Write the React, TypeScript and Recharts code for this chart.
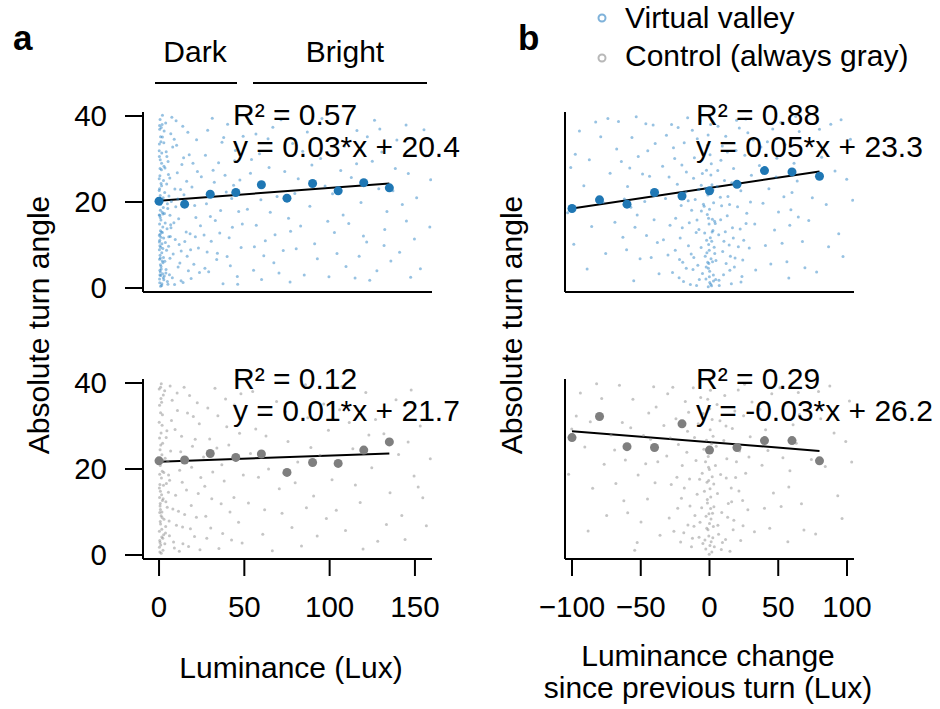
import { ScatterChart, Scatter, XAxis, YAxis, ReferenceLine } from 'recharts';

const FONT = '"Liberation Sans", Arial, Helvetica, sans-serif';
const BLUE = '#1f77b4';
const GRAY = '#7f7f7f';

const angleTicks = [0, 20, 40];
const lumTicks = [0, 50, 100, 150];
const changeTicks = [-100, -50, 0, 50, 100];

// binned means
const lumBins = [0, 15, 30, 45, 60, 75, 90, 105, 120, 135];
const valleyLumMeans = [20.2, 19.5, 21.8, 22.2, 24.0, 20.9, 24.3, 22.6, 24.5, 23.3];
const controlLumMeans = [21.9, 22.1, 23.6, 22.7, 23.5, 19.2, 21.5, 21.3, 24.4, 26.3];
const changeBins = [-100, -80, -60, -40, -20, 0, 20, 40, 60, 80];
const valleyChangeMeans = [18.5, 20.5, 19.5, 22.2, 21.4, 22.6, 24.1, 27.3, 27.0, 26.0];
const controlChangeMeans = [27.3, 32.2, 25.2, 25.0, 30.5, 24.4, 25.0, 26.6, 26.6, 21.9];

// fitted lines (end points)
const valleyLumFit = [[0, 20.3], [135, 24.3]];
const controlLumFit = [[0, 21.7], [135, 23.6]];
const valleyChangeFit = [[-100, 18.5], [80, 27.1]];
const controlChangeFit = [[-100, 28.8], [80, 24.2]];

const fitLabels = [
  ['R² = 0.57', 'y = 0.03*x + 20.4'],
  ['R² = 0.88', 'y = 0.05*x + 23.3'],
  ['R² = 0.12', 'y = 0.01*x + 21.7'],
  ['R² = 0.29', 'y = -0.03*x + 26.2'],
];

// single turns (sampled from the clouds)
const valleyLum = [
  [0.3,2.1],[0.8,5.4],[1.5,0.6],[0.2,8.9],[2.1,3.3],[0.6,12.5],[1.1,15.8],[0.4,1.2],[2.6,7.1],[0.9,19.4],
  [0.1,22.7],[1.7,10.3],[0.5,26.1],[1.3,4.4],[2.2,14.2],[0.7,29.8],[0.2,33.5],[1.9,17.6],[0.4,36.9],[1.2,24.3],
  [2.8,1.9],[0.6,39.2],[1.6,31.4],[0.3,6.7],[2.4,21.0],[0.8,13.3],[0.1,17.0],[1.4,27.5],[2.0,35.1],[0.5,9.8],
  [1.0,2.9],[2.7,11.6],[0.3,20.2],[1.8,38.0],[0.9,0.4],[1.5,23.8],[0.2,30.6],[2.3,5.9],[0.7,16.4],[1.1,34.0],
  [2.9,28.3],[0.4,11.1],[1.6,8.2],[0.1,25.4],[2.5,18.7],[0.8,3.7],[1.3,37.3],[0.6,7.6],[2.0,12.9],[0.3,14.9],
  [0.5,4.1],[1.9,6.3],[0.2,10.7],[3.1,2.8],[0.8,18.1],[1.4,13.0],[4.4,8.8],[0.3,23.1],[2.2,9.2],[5.2,0.9],
  [0.6,27.8],[1.7,1.0],[3.6,15.1],[0.1,31.9],[2.6,25.0],[0.9,35.2],[4.9,19.6],[1.2,5.0],[0.4,16.9],[3.3,22.2],
  [2.0,40.2],[5.7,11.9],[0.7,21.5],[1.5,29.0],[4.0,3.5],[0.2,12.2],[2.8,33.8],[6.4,6.9],[1.0,9.5],[3.0,36.5],
  [0.5,3.0],[2.3,17.2],[5.5,26.4],[0.8,7.0],[1.6,20.5],[4.6,30.6],[0.3,37.8],[2.5,2.4],[6.8,14.7],[1.1,11.8],
  [3.4,6.2],[5.1,18.5],[7.8,2.4],[4.2,31.7],[9.5,11.3],[6.3,25.6],[11.2,4.9],[3.9,38.4],[8.7,15.2],[12.6,22.9],
  [5.6,9.7],[14.1,1.3],[10.3,33.2],[4.7,13.8],[16.5,7.4],[7.2,20.1],[13.4,28.7],[18.2,12.6],[6.9,35.9],[3.2,17.3],
  [9.1,0.8],[15.3,19.8],[20.4,5.5],[11.8,10.1],[4.5,24.2],[17.7,31.0],[8.3,7.9],[21.6,16.4],[13.9,37.6],[6.1,3.1],
  [19.3,23.5],[10.7,26.8],[23.1,9.3],[5.3,29.4],[15.9,13.0],[7.5,39.7],[12.2,5.8],[22.5,27.1],[9.8,18.9],[3.7,10.6],
  [18.8,2.2],[14.6,21.7],[24.3,14.5],[8.0,32.8],[11.5,16.1],[16.9,36.2],[6.6,12.0],[20.9,19.2],[4.1,4.3],[13.0,8.6],
  [22.0,34.5],[9.3,23.0],[17.2,4.0],[5.8,21.4],[24.8,25.9],[10.0,38.9],[15.1,10.8],[19.9,29.0],[7.0,14.0],[12.9,1.7],
  [21.3,11.9],[3.5,27.9],[16.2,24.8],[8.9,34.6],[23.7,3.6],[11.0,20.7],[14.4,30.3],[6.4,16.9],[18.5,8.9],[4.9,1.5],
  [26.4,12.3],[29.1,3.8],[31.7,27.4],[27.8,19.6],[34.2,8.1],[36.9,33.9],[28.5,36.7],[33.0,15.7],[39.4,22.3],[41.8,5.2],
  [30.6,10.9],[44.3,29.6],[37.5,1.0],[46.7,17.8],[32.4,24.6],[40.2,38.1],[35.6,12.8],[48.1,9.4],[27.2,30.9],[43.0,14.1],
  [38.7,26.2],[45.9,2.7],[29.9,21.5],[49.3,35.3],[33.8,6.6],[42.6,20.8],[36.1,18.0],[47.4,25.1],[31.2,39.5],[39.9,7.3],
  [44.8,32.0],[26.9,4.6],[41.1,11.7],[34.9,29.1],[48.8,14.9],[30.1,16.6],[37.9,35.0],[43.7,23.9],[28.2,8.4],[46.1,0.9],
  [51.8,18.3],[55.4,4.1],[58.9,31.2],[62.3,11.0],[53.6,26.7],[66.7,37.4],[60.1,2.0],[69.2,21.3],[57.0,14.6],[72.8,8.7],
  [64.5,28.0],[75.9,16.2],[52.7,38.6],[78.3,33.6],[61.4,7.5],[81.6,25.4],[68.0,12.4],[85.1,3.0],[59.7,20.5],[88.4,19.0],
  [71.5,39.1],[63.9,34.7],[91.2,10.3],[76.8,1.4],[94.7,30.1],[55.9,9.6],[83.0,14.4],[97.3,23.7],[67.3,5.9],[79.6,22.0],
  [86.9,36.3],[54.2,29.9],[92.8,6.8],[73.7,27.1],[98.9,15.5],[65.2,17.6],[89.6,28.6],[80.4,9.1],[56.8,35.8],[95.5,39.4],
  [70.3,3.5],[84.2,31.8],[61.0,24.1],[77.1,13.2],[99.6,2.6],
  [101.7,21.9],[104.3,8.0],[108.8,33.0],[111.2,15.0],[106.5,27.3],[114.9,2.3],[118.4,19.9],[103.1,38.3],[121.7,10.7],[125.0,29.5],
  [109.6,5.0],[128.8,23.1],[116.0,36.6],[132.3,13.6],[112.7,25.7],[135.9,6.3],[139.4,34.4],[119.8,12.1],[142.6,19.4],[126.3,39.0],
  [146.1,26.6],[123.5,1.8],[149.7,11.4],[130.6,31.6],[153.2,4.5],[137.1,22.6],[156.4,30.7],[141.0,8.3],[107.9,17.0],[144.8,37.9],
  [133.6,17.8],[151.0,21.0],[158.7,14.2],[115.8,28.9],[127.7,4.0],[147.5,2.5],[122.1,35.2],[155.3,36.8],[138.5,27.8],[102.8,12.9],
  [131.9,9.9],[145.0,15.6],[117.3,7.4],[159.2,25.2],[129.4,37.0],
];

const controlLum = [
  [0.4,3.4],[1.2,9.1],[0.2,15.6],[2.3,1.1],[0.7,20.8],[1.6,6.0],[0.3,27.2],[2.0,12.7],[0.9,33.1],[0.1,38.6],
  [1.4,17.9],[2.7,4.7],[0.6,24.5],[1.8,30.2],[0.5,0.7],[1.1,36.4],[2.4,22.0],[0.8,10.6],[0.2,5.5],[1.5,14.0],
  [2.9,8.3],[0.4,18.8],[1.0,2.3],[2.1,26.0],[0.7,12.0],[1.3,39.8],[0.1,30.9],[2.6,16.2],[0.9,7.2],[1.7,23.3],
  [0.3,34.8],[2.2,3.9],[0.6,11.4],[1.9,19.5],[0.2,1.8],[1.2,28.4],[2.5,37.2],[0.8,14.8],[0.4,9.9],[1.6,4.2],
  [0.6,2.9],[1.8,8.7],[0.3,13.4],[2.8,19.2],[1.0,25.6],[3.9,6.6],[0.5,16.4],[2.0,32.6],[4.8,11.1],[1.3,0.4],
  [0.2,21.9],[3.4,2.6],[1.5,35.5],[5.6,18.6],[0.7,7.8],[2.4,13.1],[4.2,27.3],[0.9,39.0],[6.1,4.5],[1.7,10.0],
  [3.8,5.1],[6.2,17.4],[9.0,1.6],[4.6,28.9],[11.4,10.2],[7.7,36.0],[13.8,6.5],[5.2,21.8],[16.1,15.1],[8.5,3.0],
  [19.6,25.3],[10.8,33.6],[4.0,12.4],[14.7,39.0],[21.9,8.8],[6.8,24.2],[17.3,2.0],[12.1,19.7],[23.6,30.5],[3.3,38.2],
  [9.7,13.9],[15.6,22.7],[20.8,4.3],[5.9,7.9],[13.2,27.6],[18.9,11.5],[24.5,18.0],[7.3,31.3],[11.9,0.9],[22.4,35.4],
  [4.3,16.6],[16.7,33.0],[10.2,6.9],[14.0,2.6],[19.1,20.4],[8.1,10.7],[23.0,14.3],[6.5,39.3],[12.7,24.0],[17.9,37.1],
  [3.6,22.5],[21.2,26.9],[9.4,29.2],[15.0,9.4],[24.0,1.2],[5.5,14.6],[13.6,16.9],[18.4,6.1],[10.6,37.7],[20.1,32.2],
  [26.8,16.0],[30.3,6.3],[33.9,24.9],[28.6,34.2],[36.4,11.9],[39.7,29.8],[42.5,3.5],[31.5,19.3],[45.2,22.1],[27.4,9.0],
  [48.0,37.5],[35.1,1.5],[38.2,17.2],[43.9,13.4],[29.7,27.0],[46.6,7.6],[32.8,38.8],[40.9,25.6],[49.4,18.6],[34.5,32.4],
  [37.3,5.0],[44.1,34.9],[26.1,22.8],[41.6,10.0],[47.2,28.3],[30.9,13.1],[36.8,21.0],[48.7,2.8],[28.0,3.9],[39.0,36.3],
  [52.4,12.1],[56.7,29.3],[60.8,4.8],[64.2,20.0],[68.9,35.7],[72.1,9.7],[75.6,26.4],[79.8,16.8],[83.5,2.1],[87.2,31.9],
  [90.6,13.7],[94.3,23.2],[98.1,8.5],[54.9,38.0],[58.3,18.1],[62.7,27.7],[66.4,1.0],[70.5,15.4],[74.0,33.3],[77.9,6.4],
  [81.3,21.6],[85.8,39.6],[89.0,25.0],[92.7,4.4],[96.5,35.1],[53.6,23.6],[61.9,10.5],[73.2,19.0],[86.4,11.0],[99.3,29.0],
  [101.4,17.5],[105.8,33.8],[109.3,5.7],[113.6,24.7],[117.9,12.2],[121.2,37.8],[124.7,20.3],[128.2,3.2],[131.8,28.2],[135.4,14.5],
  [138.9,36.1],[142.3,9.2],[146.0,26.3],[149.5,18.4],[153.1,30.0],[156.7,6.8],[159.0,22.4],[103.9,10.4],[111.5,30.8],[119.6,1.4],
  [126.9,31.5],[133.3,7.1],[140.4,23.4],[147.8,38.4],[154.6,13.3],[107.2,39.2],[115.1,16.3],[123.0,27.9],[144.2,3.6],[151.9,15.8],
];

const valleyChange = [
  [0.2,1.3],[-0.8,4.6],[1.5,0.5],[-1.9,8.2],[0.6,11.7],[2.8,3.0],[-0.3,14.9],[1.1,6.8],[-2.6,2.1],[0.0,18.3],
  [3.4,9.5],[-1.2,21.6],[0.9,0.9],[-3.5,12.8],[2.1,16.0],[-0.5,5.7],[1.8,24.0],[-2.2,27.4],[0.4,31.0],[-1.0,35.6],
  [2.5,13.4],[-0.1,2.6],[3.0,19.8],[-3.1,7.4],[1.3,28.9],[-0.6,10.1],[0.8,38.0],[-1.6,17.1],[2.2,6.1],[-2.9,23.2],
  [0.1,3.9],[1.6,10.9],[-0.9,0.3],[3.7,15.5],[-1.4,33.2],[0.5,22.0],[-2.4,4.9],[1.0,26.3],[-0.2,8.8],[2.9,1.6],
  [-5.1,3.4],[6.9,1.8],[-11.4,7.1],[12.1,5.7],[-2.1,11.1],[3.8,8.0],[-16.9,4.6],[17.3,11.6],[-7.7,13.6],[8.1,15.9],
  [-19.8,14.0],[21.0,9.6],[-3.9,19.0],[4.5,2.0],[-13.0,18.1],[14.6,19.4],[-24.9,8.8],[26.6,15.0],[-1.3,6.0],[1.9,13.0],
  [-9.4,0.6],[10.5,10.9],[-6.0,23.9],[7.9,21.1],[-15.5,20.3],[15.2,7.4],[-0.7,16.2],[2.6,22.8],[-21.8,6.6],[22.9,1.4],
  [-8.5,5.3],[10.2,3.1],[-15.3,9.8],[6.7,12.4],[-22.1,2.4],[18.6,7.0],[-5.9,17.9],[13.4,21.3],[-28.7,14.6],[24.9,11.1],
  [-11.6,25.5],[8.3,29.7],[-18.4,33.8],[21.7,37.2],[-32.0,20.8],[30.5,26.2],[-6.8,38.9],[15.9,1.0],[-25.3,30.1],[27.1,17.4],
  [-13.9,0.8],[11.8,35.3],[-20.6,19.2],[19.3,32.0],[-9.7,12.9],[5.4,23.6],[-30.2,7.7],[33.6,4.2],[-16.8,27.0],[26.4,39.3],
  [-4.9,31.4],[9.6,8.5],[-23.4,24.1],[16.7,14.0],[-12.5,36.7],[22.8,22.6],[-7.4,2.0],[12.9,16.8],[-27.6,38.0],[31.8,34.4],
  [-19.5,6.0],[7.1,0.6],[-34.1,28.3],[28.9,9.3],[-10.4,20.6],[17.5,27.8],[-14.7,15.2],[23.6,2.7],[-6.1,9.4],[4.7,6.4],
  [-21.3,11.6],[14.3,10.0],[-26.9,3.6],[20.4,18.9],[-8.9,34.7],[10.9,25.0],[-17.2,22.3],[25.7,30.9],[-31.3,35.5],[6.2,37.6],
  [-12.0,4.3],[18.1,4.9],[-24.6,16.2],[29.8,20.0],[-5.2,26.6],[8.8,19.1],[-15.9,39.6],[13.0,31.6],[-29.4,25.8],[22.3,13.7],
  [-9.1,15.8],[11.5,13.1],[-20.1,28.6],[27.9,36.1],[-13.3,7.9],[4.2,15.0],[-7.9,22.9],[16.2,24.5],[-33.5,11.2],[32.9,14.9],
  [-18.9,1.5],[19.7,39.0],[-4.4,19.5],[9.3,33.0],[-26.2,32.6],[24.2,6.5],[-11.0,30.3],[14.8,4.1],[-22.8,37.3],[6.0,27.3],
  [-38.2,22.4],[41.5,27.6],[-44.9,31.9],[47.3,13.5],[-52.6,17.0],[55.0,33.4],[-60.3,8.9],[63.8,24.9],[-41.0,37.9],[44.6,5.6],
  [-48.7,26.5],[51.9,38.5],[-56.4,35.0],[59.2,18.2],[-64.1,29.4],[67.6,10.8],[-36.7,3.3],[38.9,19.7],[-45.8,12.2],[49.0,30.2],
  [-53.3,39.8],[57.7,2.3],[-61.9,20.7],[65.3,36.4],[-68.8,15.3],[37.4,32.8],[-40.3,15.9],[43.2,23.1],[-50.5,6.8],[54.1,21.2],
  [-58.0,27.9],[61.5,29.0],[-66.2,38.7],[69.4,4.7],[-43.6,26.0],[46.0,37.0],[-55.1,1.7],[52.8,10.4],[-39.5,33.6],[40.7,9.9],
  [-47.1,20.1],[58.4,14.6],[-63.0,11.8],[66.1,31.3],[-37.9,10.6],[48.4,25.8],[-51.8,30.6],[56.3,6.1],[-59.6,23.6],[62.7,39.9],
  [-46.3,38.2],[42.1,34.0],[-54.2,14.1],[60.0,22.2],[-67.5,32.3],[36.3,28.5],[-42.4,7.1],[50.2,17.7],[-57.2,18.8],[64.6,16.5],
  [-72.3,26.7],[74.8,21.0],[-79.1,35.2],[81.6,30.4],[-85.7,14.3],[88.2,38.1],[-91.4,23.8],[94.0,12.6],[-97.6,31.1],[99.8,25.3],
  [-103.2,17.5],[102.5,34.6],[-75.5,8.0],[77.9,3.7],[-82.8,38.6],[84.9,19.4],[-89.0,4.4],[91.3,27.2],[-94.6,36.5],[97.1,7.3],
  [-100.9,28.0],[104.1,20.4],[-77.3,19.9],[80.0,36.9],[-87.4,29.8],[86.6,9.6],[-98.7,10.2],[95.7,39.1],[-73.9,39.4],[72.2,15.7],
];

const controlChange = [
  [0.3,2.2],[-1.1,5.9],[1.7,0.7],[-0.4,9.6],[2.4,4.0],[-2.7,1.4],[0.9,13.5],[-1.8,16.9],[0.0,7.3],[3.2,11.2],
  [-0.7,20.4],[1.4,24.8],[-3.3,3.5],[0.5,29.1],[2.0,18.2],[-1.5,12.1],[0.2,34.0],[-2.2,26.7],[1.1,8.4],[-0.2,0.2],
  [2.8,6.6],[-3.7,14.8],[0.7,38.3],[-0.9,22.9],[1.9,31.5],[-2.5,9.0],[3.5,1.9],[-0.6,17.3],[1.2,3.1],[-1.3,36.2],
  [0.4,15.4],[2.6,27.6],[-2.0,6.2],[0.8,10.8],[-0.1,19.9],
  [-4.8,2.7],[6.1,6.9],[-10.6,9.2],[11.7,3.6],[-1.6,12.9],[3.1,16.5],[-15.7,7.0],[16.1,12.4],[-7.2,17.6],[8.6,1.3],
  [-18.3,15.6],[19.0,18.0],[-2.9,21.7],[2.2,9.7],[-12.4,3.9],[13.2,8.8],[-0.5,4.4],[1.5,25.9],[-23.1,10.9],[24.4,6.8],
  [-7.6,4.1],[9.4,2.9],[-14.2,11.4],[5.8,14.3],[-21.0,3.0],[17.7,8.1],[-5.3,19.0],[12.6,22.4],[-27.8,16.4],[24.1,12.7],
  [-10.9,27.3],[7.6,31.2],[-17.6,35.7],[20.9,38.4],[-31.1,23.0],[29.6,27.5],[-6.4,36.6],[14.9,0.9],[-24.4,31.7],[26.3,19.0],
  [-13.1,1.9],[11.1,37.1],[-19.8,20.8],[18.4,33.5],[-9.0,14.1],[4.9,25.3],[-29.3,8.6],[32.7,5.4],[-16.0,28.8],[25.5,39.7],
  [-4.6,32.9],[8.9,9.9],[-22.6,25.7],[15.8,15.6],[-11.8,38.9],[21.9,24.2],[-6.9,7.6],[12.2,17.9],[-26.7,39.0],[30.9,35.6],
  [-18.7,5.2],[6.6,4.8],[-33.2,30.1],[27.9,10.5],[-9.8,22.0],[16.6,29.4],[-14.5,17.7],[22.7,3.4],[-5.7,11.0],[4.3,20.8],
  [-20.4,13.2],[13.7,12.0],[-25.9,5.5],[19.6,21.7],[-8.2,30.5],[10.4,26.6],[-16.5,23.9],[24.8,32.4],[-30.4,37.5],[5.5,35.0],
  [-11.3,6.7],[17.2,5.9],[-23.7,18.1],[28.7,22.8],[-4.1,24.6],[8.1,18.7],[-15.2,33.2],[12.0,30.0],[-28.5,27.2],[21.4,14.9],
  [-37.6,21.7],[40.8,29.1],[-44.2,33.0],[46.5,14.4],[-51.9,18.6],[54.3,34.8],[-59.5,9.8],[63.1,26.0],[-40.6,39.1],[43.8,6.2],
  [-48.0,27.8],[51.2,38.9],[-55.7,36.2],[58.5,19.6],[-63.4,30.8],[66.9,11.9],[-36.0,4.6],[38.2,20.9],[-45.1,13.0],[48.3,31.6],
  [-52.6,2.9],[57.0,3.1],[-61.2,22.1],[64.6,37.8],[-68.1,16.6],[36.7,33.9],[-39.6,16.8],[42.5,24.3],[-49.8,7.7],[53.4,22.6],
  [-57.3,29.6],[60.8,30.3],[-65.5,39.5],[68.7,5.8],[-42.9,26.9],[45.3,37.5],[-54.4,1.1],[52.1,11.3],[-38.8,34.4],[40.0,10.9],
  [-46.4,21.2],[57.7,15.8],[-62.3,12.6],[65.4,32.7],[-69.0,24.4],
  [-71.6,27.9],[74.1,22.2],[-78.4,36.4],[80.9,31.7],[-85.0,15.5],[87.5,39.3],[-90.7,25.1],[93.3,13.8],[-96.9,32.3],[99.1,26.4],
  [-102.5,18.8],[101.8,35.8],[-74.8,9.2],[77.2,4.9],[-82.1,39.8],[84.2,20.6],[-88.3,5.6],[90.6,28.4],[-93.9,37.7],[96.4,8.5],
  [-100.2,29.3],[103.4,21.6],[-76.6,21.1],[79.3,38.0],[-86.7,31.0],
];

const toPts = (arr: number[][]) => arr.map(([x, y]) => ({ x, y }));
const toMeans = (xs: number[], ys: number[]) => xs.map((x, i) => ({ x, y: ys[i] }));

const PLOT_W = 289;
const PLOT_H = 180;
const TOP_PAD = 25;
const Y_DOMAIN = [-0.93, 40.93];
const LUM_DOMAIN = [-9.4, 160];
const CHANGE_DOMAIN = [-105.1, 105.1];

const fmtTick = (v: number) => (v < 0 ? `\u2212${Math.abs(v)}` : `${v}`);

interface PanelProps {
  left: number;
  top: number;
  cloud: number[][];
  bins: number[];
  means: number[];
  fit: number[][];
  color: string;
  cloudColor: string;
  cloudOpacity: number;
  xDomain: number[];
  xTicks: number[];
  showX: boolean;
  showY: boolean;
}

function Panel({ left, top, cloud, bins, means, fit, color, cloudColor, cloudOpacity, xDomain, xTicks, showX, showY }: PanelProps) {
  const tickStyle = { fill: '#000', fontSize: 29.5, fontFamily: FONT };
  return (
    <div style={{ position: 'absolute', left: left - 80, top: top - TOP_PAD }}>
      <ScatterChart width={PLOT_W + 100} height={PLOT_H + 70 + TOP_PAD} margin={{ top: TOP_PAD, right: 20, bottom: 0, left: 0 }}>
        <XAxis
          type="number"
          dataKey="x"
          domain={xDomain}
          ticks={xTicks}
          allowDataOverflow
          interval={0}
          height={70}
          tick={showX ? tickStyle : false}
          tickFormatter={fmtTick}
          tickSize={17}
          tickMargin={20}
          axisLine={{ stroke: '#000', strokeWidth: 2 }}
          tickLine={{ stroke: '#000', strokeWidth: 2 }}
        />
        <YAxis
          type="number"
          dataKey="y"
          domain={Y_DOMAIN}
          ticks={angleTicks}
          allowDataOverflow
          interval={0}
          width={80}
          tick={showY ? tickStyle : false}
          tickSize={18}
          tickMargin={18}
          axisLine={{ stroke: '#000', strokeWidth: 2 }}
          tickLine={{ stroke: '#000', strokeWidth: 2 }}
        />
        <Scatter
          data={toPts(cloud)}
          isAnimationActive={false}
          shape={(p: any) => <circle cx={p.cx} cy={p.cy} r={1.5} fill={cloudColor} fillOpacity={cloudOpacity} />}
        />
        <Scatter
          data={toMeans(bins, means)}
          isAnimationActive={false}
          shape={(p: any) => <circle cx={p.cx} cy={p.cy} r={4.5} fill={color} />}
        />
        <ReferenceLine segment={toPts(fit)} stroke="#000" strokeWidth={2} ifOverflow="visible" />
      </ScatterChart>
    </div>
  );
}

export default function App() {
  const txt = { fontFamily: FONT, fontSize: 30, fill: '#000' };
  return (
    <div style={{ position: 'absolute', left: 0, top: 0, width: 940, height: 709, background: '#fff', overflow: 'hidden' }}>
      <Panel left={143} top={112} cloud={valleyLum} bins={lumBins} means={valleyLumMeans} fit={valleyLumFit}
        color={BLUE} cloudColor="#2f86c6" cloudOpacity={0.5} xDomain={LUM_DOMAIN} xTicks={lumTicks} showX={false} showY />
      <Panel left={143} top={379} cloud={controlLum} bins={lumBins} means={controlLumMeans} fit={controlLumFit}
        color={GRAY} cloudColor="#8c8c8c" cloudOpacity={0.5} xDomain={LUM_DOMAIN} xTicks={lumTicks} showX showY />
      <Panel left={565} top={112} cloud={valleyChange} bins={changeBins} means={valleyChangeMeans} fit={valleyChangeFit}
        color={BLUE} cloudColor="#2f86c6" cloudOpacity={0.5} xDomain={CHANGE_DOMAIN} xTicks={changeTicks} showX={false} showY={false} />
      <Panel left={565} top={379} cloud={controlChange} bins={changeBins} means={controlChangeMeans} fit={controlChangeFit}
        color={GRAY} cloudColor="#8c8c8c" cloudOpacity={0.5} xDomain={CHANGE_DOMAIN} xTicks={changeTicks} showX showY={false} />

      <svg width={940} height={709} style={{ position: 'absolute', left: 0, top: 0, pointerEvents: 'none' }}>
        <text x={13} y={50} style={{ fontFamily: FONT, fontSize: 35, fontWeight: 700 }}>a</text>
        <text x={518} y={50} style={{ fontFamily: FONT, fontSize: 35, fontWeight: 700 }}>b</text>

        <text x={195} y={62} textAnchor="middle" style={txt}>Dark</text>
        <text x={345} y={62} textAnchor="middle" style={txt}>Bright</text>
        <line x1={155} y1={83} x2={237} y2={83} stroke="#000" strokeWidth={2} />
        <line x1={253} y1={83} x2={427} y2={83} stroke="#000" strokeWidth={2} />

        <circle cx={602} cy={18} r={3.5} fill="none" stroke="#7fb2da" strokeWidth={2} />
        <text x={625} y={28} style={txt}>Virtual valley</text>
        <circle cx={602} cy={58} r={3.5} fill="none" stroke="#b8b8b8" strokeWidth={2} />
        <text x={625} y={66} style={txt}>Control (always gray)</text>

        <text x={233} y={125} style={txt}>{fitLabels[0][0]}</text>
        <text x={233} y={157} style={txt}>{fitLabels[0][1]}</text>
        <text x={696} y={125} style={txt}>{fitLabels[1][0]}</text>
        <text x={696} y={157} style={txt}>{fitLabels[1][1]}</text>
        <text x={233} y={389} style={txt}>{fitLabels[2][0]}</text>
        <text x={233} y={421} style={txt}>{fitLabels[2][1]}</text>
        <text x={696} y={389} style={txt}>{fitLabels[3][0]}</text>
        <text x={696} y={421} style={txt}>{fitLabels[3][1]}</text>

        <text transform="translate(49,325) rotate(-90)" textAnchor="middle" style={txt}>Absolute turn angle</text>
        <text transform="translate(522,325) rotate(-90)" textAnchor="middle" style={txt}>Absolute turn angle</text>

        <text x={291} y={678} textAnchor="middle" style={txt}>Luminance (Lux)</text>
        <text x={708} y={666} textAnchor="middle" style={txt}>Luminance change</text>
        <text x={708} y={698} textAnchor="middle" style={txt}>since previous turn (Lux)</text>
      </svg>
    </div>
  );
}
